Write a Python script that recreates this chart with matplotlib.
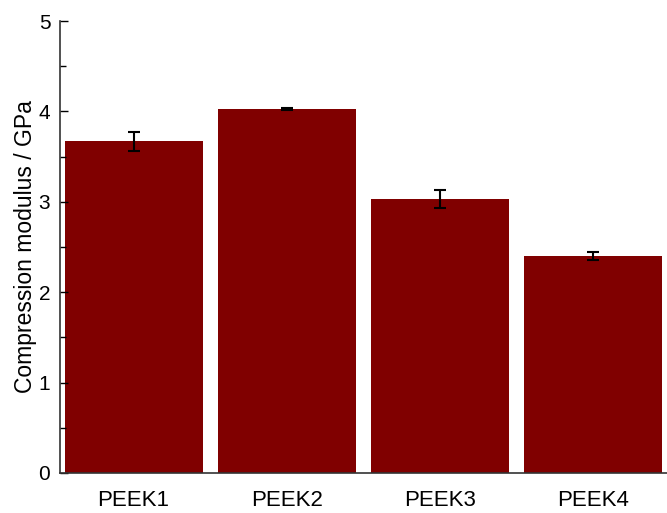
import matplotlib
matplotlib.use("Agg")
import matplotlib.pyplot as plt
from matplotlib.ticker import MultipleLocator

samples = ["PEEK1", "PEEK2", "PEEK3", "PEEK4"]
modulus = [3.67, 4.03, 3.03, 2.40]
modulus_err = [0.105, 0.01, 0.103, 0.046]

plt.rcParams["font.family"] = ["Liberation Sans", "DejaVu Sans"]

fig = plt.figure(figsize=(6.67, 5.13), dpi=100)
ax = fig.add_axes([0.090, 0.078, 0.910, 0.881])

x = range(len(samples))
ax.bar(x, modulus, width=0.9, color="#800000", edgecolor="none",
       yerr=modulus_err, capsize=4,
       error_kw={"ecolor": "black", "elinewidth": 1.5, "capthick": 1.5})

ax.set_xlim(-0.48, 3.48)
ax.set_ylim(0, 5)
ax.set_xticks(list(x))
ax.set_xticklabels(samples)
ax.yaxis.set_major_locator(MultipleLocator(1))
ax.yaxis.set_minor_locator(MultipleLocator(0.5))
ax.tick_params(axis="y", which="major", direction="in", length=6, width=1, labelsize=15, pad=7)
ax.tick_params(axis="y", which="minor", direction="in", length=4, width=1)
ax.tick_params(axis="x", length=0, labelsize=16, pad=12.5)
ax.set_ylabel("Compression modulus / GPa", fontsize=16.5, labelpad=1)

for side in ("top", "right"):
    ax.spines[side].set_visible(False)
for side in ("left", "bottom"):
    ax.spines[side].set_color("#333333")
    ax.spines[side].set_linewidth(1.2)

fig.savefig("out.png", dpi=100)
